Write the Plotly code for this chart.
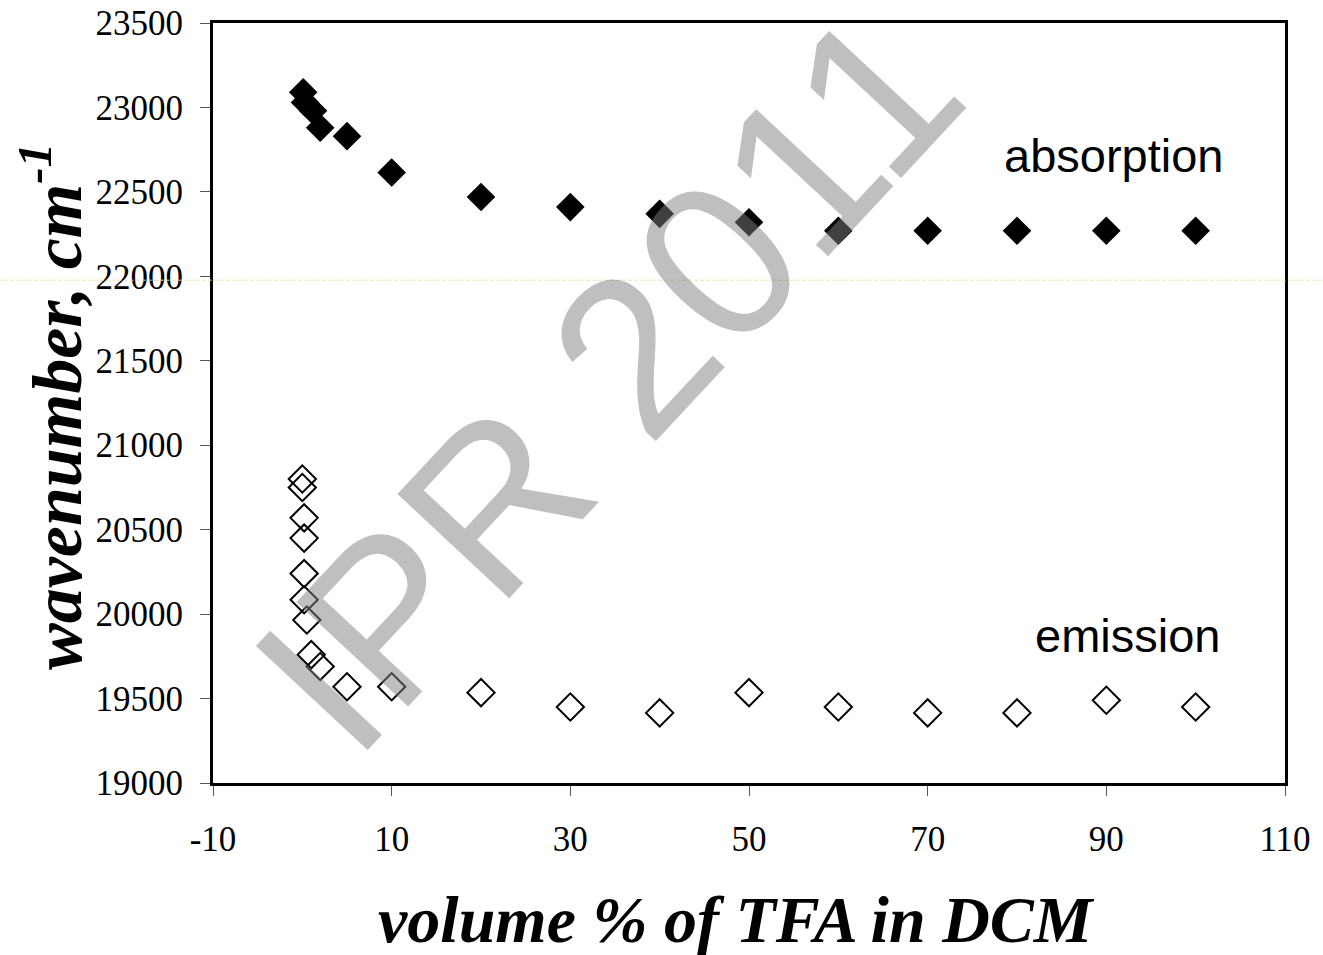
import plotly.graph_objects as go

# Data
abs_x = [0.1, 0.3, 1.2, 2, 5, 10, 20, 30, 40, 50, 60, 70, 80, 90, 100]
abs_y = [23090, 23030, 22980, 22880, 22830, 22615, 22470, 22410, 22370, 22320,
         22270, 22270, 22270, 22270, 22270]

em_x = [0, 0, 0.2, 0.2, 0.2, 0.2, 0.5, 1, 2, 5, 10, 20, 30, 40, 50, 60, 70, 80, 90, 100]
em_y = [20800, 20750, 20570, 20450, 20240, 20085, 19965, 19760, 19690, 19570,
        19570, 19535, 19450, 19415, 19535, 19450, 19415, 19415, 19490, 19450]

x_ticks = [-10, 10, 30, 50, 70, 90, 110]
y_ticks = [19000, 19500, 20000, 20500, 21000, 21500, 22000, 22500, 23000, 23500]

SERIF = "Liberation Serif, Times New Roman, serif"
SANS = "Liberation Sans, Arial, sans-serif"

fig = go.Figure()
fig.add_trace(go.Scatter(
    x=abs_x, y=abs_y, mode="markers", name="absorption",
    marker=dict(symbol="diamond", size=22, color="black", line=dict(width=0)),
))
fig.add_trace(go.Scatter(
    x=em_x, y=em_y, mode="markers", name="emission",
    marker=dict(symbol="diamond-open", size=21, color="black", line=dict(width=2, color="black")),
))

fig.update_layout(
    width=1323, height=955,
    margin=dict(l=213, r=38, t=23, b=172),
    paper_bgcolor="white", plot_bgcolor="white",
    showlegend=False,
    xaxis=dict(
        range=[-10, 110], tickvals=x_ticks, ticktext=[str(v) for v in x_ticks],
        showgrid=False, zeroline=False, automargin=False,
        showline=True, linecolor="black", linewidth=3, mirror=True,
        ticks="outside", ticklen=10, tickwidth=1, tickcolor="#555",
        tickfont=dict(family=SERIF, size=35, color="black"),
        ticklabelstandoff=13,
    ),
    yaxis=dict(
        range=[19000, 23500], tickvals=y_ticks, ticktext=[str(v) for v in y_ticks],
        showgrid=False, zeroline=False, automargin=False,
        showline=True, linecolor="black", linewidth=3, mirror=True,
        ticks="outside", ticklen=10, tickwidth=1, tickcolor="#555",
        tickfont=dict(family=SERIF, size=35, color="black"),
        ticklabelstandoff=10,
    ),
    annotations=[
        dict(text="<b><i>volume % of TFA in DCM</i></b>", xref="paper", yref="paper",
             x=0.488, y=-0.18, xanchor="center", yanchor="middle", showarrow=False,
             font=dict(family=SERIF, size=66, color="black")),
        dict(text="<b><i>wavenumber, cm<sup>-1</sup></i></b>", xref="paper", yref="paper",
             x=-0.151, y=0.495, xanchor="center", yanchor="middle", showarrow=False,
             textangle=-90, font=dict(family=SERIF, size=70, color="black")),
        dict(text="absorption", xref="paper", yref="paper", x=0.8405, y=0.826,
             xanchor="center", yanchor="middle", showarrow=False,
             font=dict(family=SANS, size=47, color="black")),
        dict(text="emission", xref="paper", yref="paper", x=0.853, y=0.1947,
             xanchor="center", yanchor="middle", showarrow=False,
             font=dict(family=SANS, size=47, color="black")),
        dict(text="IPR 2011", xref="paper", yref="paper", x=0.368, y=0.53,
             xanchor="center", yanchor="middle", showarrow=False, textangle=-47,
             font=dict(family=SANS, size=222, color="rgba(128,128,128,0.5)")),
    ],
    shapes=[
        dict(type="line", xref="paper", yref="paper", x0=-0.2, x1=1.04, y0=0.6616, y1=0.6616,
             line=dict(color="rgb(236,214,150)", width=1, dash="dot"), layer="above"),
    ],
)

fig.write_html("out.html")
